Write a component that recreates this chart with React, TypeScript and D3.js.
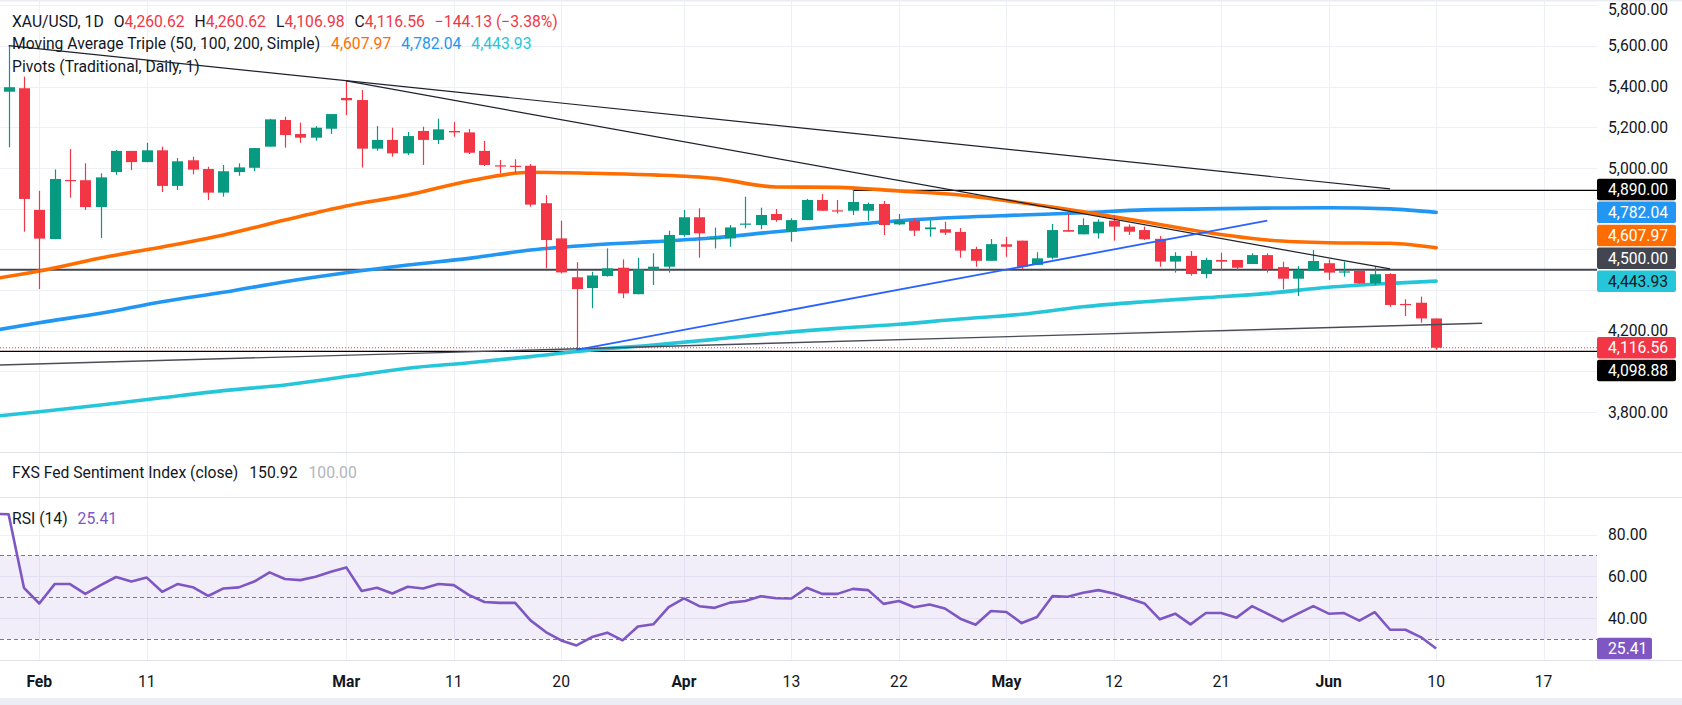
import React, { useEffect, useRef } from "react";
import * as d3 from "d3";

const WIDTH = 1682;
const HEIGHT = 705;
const PLOT_RIGHT = 1597;
const MAIN_BOTTOM = 452;
const RSI_TOP = 497.5;
const RSI_BOTTOM = 660;
const FONT = "Roboto, 'Noto Sans', sans-serif";
const FS = 15.7;

const YEAR = "2026-";

// trading days shown on the chart (Jan 28 sits just off the left edge)
const dates = [
  "01-28", "01-29", "01-30",
  "02-02", "02-03", "02-04", "02-05", "02-06", "02-09", "02-10", "02-11", "02-12", "02-13",
  "02-16", "02-17", "02-18", "02-19", "02-20", "02-23", "02-24", "02-25", "02-26", "02-27",
  "03-02", "03-03", "03-04", "03-05", "03-06", "03-09", "03-10", "03-11", "03-12", "03-13",
  "03-16", "03-17", "03-18", "03-19", "03-20", "03-23", "03-24", "03-25", "03-26", "03-27",
  "03-30", "03-31",
  "04-01", "04-02", "04-06", "04-07", "04-08", "04-09", "04-10", "04-13", "04-14", "04-15",
  "04-16", "04-17", "04-20", "04-21", "04-22", "04-23", "04-24", "04-27", "04-28", "04-29", "04-30",
  "05-01", "05-04", "05-05", "05-06", "05-07", "05-08", "05-11", "05-12", "05-13", "05-14",
  "05-15", "05-18", "05-19", "05-20", "05-21", "05-22", "05-25", "05-26", "05-27", "05-28", "05-29",
  "06-01", "06-02", "06-03", "06-04", "06-05", "06-08", "06-09", "06-10",
];

// daily candles from 01-29 to 06-10
const opens = [
  5375, 5392, 4794, 4651, 4941, 4940, 4808, 4980, 5084, 5029,
  5087, 4912, 5038, 4995, 4879, 4980, 5001, 5105, 5236, 5167,
  5149, 5193, 5344, 5334, 5095, 5138, 5072, 5182, 5138, 5182,
  5175, 5084, 5013, 5011, 5011, 4827, 4654, 4463, 4410, 4469,
  4510, 4380, 4499, 4515, 4671, 4758, 4653, 4654, 4722, 4720,
  4774, 4687, 4744, 4843, 4792, 4790, 4790, 4823, 4723, 4741,
  4699, 4699, 4686, 4602, 4544, 4625, 4643, 4524, 4559, 4695,
  4674, 4679, 4741, 4712, 4695, 4652, 4540, 4568, 4479, 4548,
  4548, 4528, 4572, 4513, 4456, 4495, 4532, 4486, 4494, 4433,
  4479, 4332, 4338, 4260.62,
];
const highs = [
  5601, 5449, 4888, 4993, 5093, 5023, 4974, 5088, 5084, 5124,
  5105, 5049, 5055, 5006, 5015, 5023, 5098, 5242, 5252, 5223,
  5206, 5265, 5428, 5383, 5206, 5198, 5177, 5203, 5242, 5226,
  5192, 5133, 5039, 5043, 5020, 4867, 4741, 4537, 4490, 4605,
  4551, 4559, 4581, 4692, 4794, 4802, 4707, 4720, 4859, 4805,
  4799, 4753, 4848, 4872, 4843, 4892, 4830, 4838, 4774, 4753,
  4744, 4736, 4705, 4613, 4651, 4662, 4643, 4586, 4725, 4774,
  4753, 4748, 4769, 4723, 4712, 4666, 4586, 4592, 4559, 4584,
  4548, 4581, 4581, 4540, 4518, 4597, 4551, 4540, 4499, 4515,
  4483, 4355, 4368, 4260.62,
];
const lows = [
  5102, 4687, 4405, 4650, 4854, 4794, 4656, 4967, 4990, 5028,
  4882, 4892, 4969, 4843, 4859, 4962, 4985, 5105, 5100, 5124,
  5134, 5167, 5260, 5002, 5085, 5056, 5064, 5015, 5118, 5154,
  5069, 5010, 4974, 4974, 4810, 4507, 4482, 4106, 4311, 4466,
  4360, 4379, 4425, 4486, 4662, 4559, 4605, 4613, 4704, 4699,
  4736, 4638, 4744, 4790, 4777, 4769, 4741, 4671, 4720, 4666,
  4662, 4671, 4559, 4515, 4544, 4564, 4503, 4524, 4551, 4687,
  4674, 4654, 4643, 4671, 4646, 4515, 4486, 4471, 4458, 4495,
  4495, 4528, 4486, 4404, 4371, 4495, 4450, 4466, 4430, 4425,
  4318, 4273, 4240, 4106.98,
];
const closes = [
  5397, 4848, 4653, 4946, 4938, 4808, 4954, 5084, 5029, 5087,
  4912, 5033, 4992, 4879, 4984, 5003, 5098, 5239, 5162, 5149,
  5198, 5265, 5333, 5095, 5138, 5072, 5157, 5138, 5190, 5175,
  5075, 5015, 5008, 5008, 4820, 4646, 4487, 4405, 4472, 4507,
  4384, 4502, 4515, 4671, 4758, 4679, 4656, 4708, 4727, 4769,
  4744, 4744, 4843, 4790, 4789, 4833, 4823, 4720, 4741, 4692,
  4708, 4682, 4594, 4544, 4626, 4613, 4515, 4556, 4695, 4687,
  4720, 4736, 4712, 4687, 4650, 4540, 4568, 4479, 4548, 4540,
  4510, 4572, 4504, 4456, 4499, 4543, 4486, 4492, 4433, 4478,
  4327, 4328, 4260.69, 4116.56,
];

// moving averages every few sessions
const maDates = [
  "01-28", "02-02", "02-06", "02-12", "02-18", "02-24", "03-02", "03-06", "03-12",
  "03-18", "03-24", "03-30", "04-06", "04-10", "04-16", "04-22", "04-28", "05-04",
  "05-08", "05-14", "05-20", "05-26", "06-01", "06-05", "06-10",
];
const ma50 = [
  4455, 4494, 4558, 4612, 4671, 4744, 4813, 4867, 4936, 4979, 4974, 4966, 4949,
  4907, 4905, 4887, 4867, 4829, 4785, 4736, 4684, 4646, 4633, 4630, 4607.97,
];
const ma100 = [
  4201, 4240, 4286, 4343, 4389, 4441, 4485, 4523, 4556, 4597, 4622, 4638, 4657,
  4687, 4715, 4741, 4758, 4769, 4780, 4794, 4799, 4803, 4805, 4799, 4782.04,
];
const ma200 = [
  3779, 3802, 3835, 3871, 3906, 3934, 3975, 4016, 4043, 4073, 4106, 4130, 4158,
  4188, 4212, 4232, 4258, 4281, 4318, 4343, 4363, 4384, 4414, 4433, 4443.93,
];

// RSI(14), one value per date
const rsi = [
  90.0, 89.8, 54.5, 47.0, 56.3, 56.3, 51.6, 55.8, 59.7, 57.5,
  59.4, 52.6, 56.3, 54.8, 50.6, 54.2, 54.7, 57.5, 61.9, 58.7,
  58.2, 59.8, 62.2, 64.3, 53.0, 54.5, 51.8, 55.0, 54.2, 56.3,
  55.8, 51.0, 47.7, 47.3, 47.3, 38.9, 33.3, 29.3, 26.9, 30.9,
  33.0, 29.3, 36.0, 37.0, 45.3, 49.4, 45.7, 44.9, 47.4, 48.2,
  50.5, 49.5, 49.4, 54.5, 51.6, 51.6, 54.0, 53.4, 46.8, 48.2,
  45.2, 46.5, 44.6, 39.7, 36.8, 43.4, 42.9, 37.6, 40.5, 50.5,
  50.2, 52.1, 53.4, 51.8, 49.4, 47.0, 39.4, 42.1, 37.0, 42.4,
  42.4, 40.2, 45.7, 42.1, 38.4, 42.1, 45.7, 42.1, 42.4, 38.8,
  42.8, 34.4, 34.4, 30.9, 25.41,
];

const fxsClose = 150.92;
const fxsBase = 100;

const tickDates = [
  "02-02", "02-11", "03-02", "03-11", "03-20", "04-01", "04-13",
  "04-22", "05-01", "05-12", "05-21", "06-01", "06-10", "06-17",
];
const tickLabels = ["Feb", "11", "Mar", "11", "20", "Apr", "13", "22", "May", "12", "21", "Jun", "10", "17"];
const monthLabels = ["Feb", "Mar", "Apr", "May", "Jun"];

const priceTicks = [3800, 4000, 4200, 4400, 4600, 4800, 5000, 5200, 5400, 5600, 5800];
const rsiTicks = [20, 40, 60, 80];
const rsiLevels = [70, 50, 30];

// drawn trend lines: [date, price] at each end
const trendStarts = [["01-29", 5601], ["03-02", 5428], ["01-28", 4031], ["03-23", 4106]];
const trendEnds = [["06-05", 4897], ["06-05", 4504], ["06-13", 4237], ["05-26", 4741]];

// horizontal levels and where they begin
const levels = [4890, 4500, 4098.88];
const levelStarts = ["04-17", "01-28", "01-28"];

const RED = "#F23645";
const GREEN = "#089981";
const TEXT = "#131722";
const ORANGE = "#FF6D00";
const BLUE = "#2196F3";
const CYAN = "#26C6DA";
const PURPLE = "#7E57C2";

function slot(md: string) {
  const k = dates.indexOf(md);
  if (k >= 0) return k;
  // past the last bar the axis keeps one slot per calendar day
  const last = new Date(YEAR + dates[dates.length - 1]);
  const d = new Date(YEAR + md);
  return dates.length - 1 + Math.round((+d - +last) / 864e5);
}

export default function App() {
  const ref = useRef<SVGSVGElement>(null);

  useEffect(() => {
    document.body.style.margin = "0";
    const svg = d3.select(ref.current);
    svg.selectAll("*").remove();

    const x = d3.scaleLinear().domain([0.44, 104.48]).range([0, PLOT_RIGHT]);
    const y = d3.scaleLinear().domain([3604.4, 5825.6]).range([MAIN_BOTTOM, 0]);
    const yr = d3.scaleLinear().domain([19.9, 97.8]).range([RSI_BOTTOM, RSI_TOP]);
    const fmt = d3.format(",.2f");

    const defs = svg.append("defs");
    defs.append("clipPath").attr("id", "clipMain")
      .append("rect").attr("width", PLOT_RIGHT).attr("height", MAIN_BOTTOM);
    defs.append("clipPath").attr("id", "clipRsi")
      .append("rect").attr("y", RSI_TOP).attr("width", PLOT_RIGHT).attr("height", RSI_BOTTOM - RSI_TOP);
    defs.append("clipPath").attr("id", "clipRsiAxis")
      .append("rect").attr("x", PLOT_RIGHT).attr("y", RSI_TOP).attr("width", 90).attr("height", RSI_BOTTOM - RSI_TOP + 2);

    svg.append("rect").attr("width", WIDTH).attr("height", HEIGHT).attr("fill", "#fff");

    // grid
    const grid = svg.append("g").attr("stroke", "#eef0f5").attr("stroke-width", 1);
    tickDates.forEach((d) => {
      const xx = Math.round(x(slot(d))) + 0.5;
      grid.append("line").attr("x1", xx).attr("x2", xx).attr("y1", 0).attr("y2", RSI_BOTTOM);
    });
    priceTicks.forEach((p) => {
      const yy = Math.round(y(p)) + 0.5;
      grid.append("line").attr("x1", 0).attr("x2", PLOT_RIGHT).attr("y1", yy).attr("y2", yy);
    });
    rsiTicks.forEach((v) => {
      const yy = Math.round(yr(v)) + 0.5;
      grid.append("line").attr("x1", 0).attr("x2", PLOT_RIGHT).attr("y1", yy).attr("y2", yy);
    });

    // pane frame
    svg.append("rect").attr("width", WIDTH).attr("height", 1.5).attr("fill", "#eaedf3");
    svg.append("rect").attr("y", 698).attr("width", WIDTH).attr("height", 7).attr("fill", "#eaedf3");
    [MAIN_BOTTOM + 0.5, RSI_TOP, RSI_BOTTOM + 0.5].forEach((yy) => {
      svg.append("line").attr("x1", 0).attr("x2", WIDTH).attr("y1", yy).attr("y2", yy)
        .attr("stroke", "#e0e3eb").attr("stroke-width", 1.2);
    });

    // ---- main pane ----
    const main = svg.append("g").attr("clip-path", "url(#clipMain)");

    const levelStyle = [
      { stroke: "#000", width: 1.2 },
      { stroke: "#434651", width: 2 },
      { stroke: "#000", width: 1.2 },
    ];
    levels.forEach((lv, i) => {
      main.append("line")
        .attr("x1", x(slot(levelStarts[i]))).attr("x2", PLOT_RIGHT)
        .attr("y1", y(lv)).attr("y2", y(lv))
        .attr("stroke", levelStyle[i].stroke).attr("stroke-width", levelStyle[i].width);
    });
    const lastClose = closes[closes.length - 1];
    main.append("line")
      .attr("x1", 0).attr("x2", PLOT_RIGHT).attr("y1", y(lastClose)).attr("y2", y(lastClose))
      .attr("stroke", RED).attr("stroke-width", 1).attr("stroke-dasharray", "1 2");

    const maLine = d3.line<number>()
      .x((_, i) => x(slot(maDates[i])))
      .y((v) => y(v))
      .curve(d3.curveMonotoneX);
    [[ma200, CYAN], [ma100, BLUE], [ma50, ORANGE]].forEach(([s, c]) => {
      main.append("path").attr("d", maLine(s as number[]))
        .attr("fill", "none").attr("stroke", c as string).attr("stroke-width", 3.6)
        .attr("stroke-linecap", "round");
    });

    const bodyW = 11;
    const candles = main.append("g");
    opens.forEach((o, i) => {
      const k = i + 1;
      const c = closes[i];
      const col = c >= o ? GREEN : RED;
      const cx = Math.round(x(k)) + 0.5;
      candles.append("line").attr("x1", cx).attr("x2", cx)
        .attr("y1", y(highs[i])).attr("y2", y(lows[i]))
        .attr("stroke", col).attr("stroke-width", 1.2);
      const top = y(Math.max(o, c));
      const h = Math.max(1.2, y(Math.min(o, c)) - top);
      candles.append("rect").attr("x", cx - bodyW / 2).attr("y", top)
        .attr("width", bodyW).attr("height", h).attr("fill", col);
    });

    const trendStyle = [
      { stroke: "#1e222d", width: 1.2 },
      { stroke: "#1e222d", width: 1.2 },
      { stroke: "#4a4d57", width: 1.4 },
      { stroke: "#2962FF", width: 1.8 },
    ];
    trendStarts.forEach((s, i) => {
      const e = trendEnds[i];
      main.append("line")
        .attr("x1", x(slot(s[0] as string))).attr("y1", y(s[1] as number))
        .attr("x2", x(slot(e[0] as string))).attr("y2", y(e[1] as number))
        .attr("stroke", trendStyle[i].stroke).attr("stroke-width", trendStyle[i].width);
    });

    // ---- price axis ----
    const axisText = (g: any, txt: string, yy: number, color = TEXT) =>
      g.append("text").attr("x", 1608).attr("y", yy + FS * 0.355)
        .attr("fill", color).attr("font-family", FONT).attr("font-size", FS).text(txt);

    const axis = svg.append("g");

    const tags = [
      { v: lastClose, bg: RED, fg: "#fff" },
      { v: ma200[ma200.length - 1], bg: CYAN, fg: TEXT },
      { v: levels[1], bg: "#434651", fg: "#fff" },
      { v: ma50[ma50.length - 1], bg: ORANGE, fg: "#fff" },
      { v: ma100[ma100.length - 1], bg: BLUE, fg: "#fff" },
      { v: levels[0], bg: "#000", fg: "#fff" },
      { v: levels[2], bg: "#000", fg: "#fff" },
    ];
    const TAG_H = 22.8;
    const placed: number[] = [];
    tags.forEach((t) => {
      const natural = y(t.v);
      let yy = natural;
      for (let n = 0; n < 10; n++) {
        const hit = placed.find((p) => Math.abs(p - yy) < TAG_H - 0.01);
        if (hit === undefined) break;
        yy = natural < hit ? hit - TAG_H : hit + TAG_H;
      }
      placed.push(yy);
    });

    // tick labels that would sit under a tag are left out, as the axis does
    priceTicks
      .filter((p) => placed.every((py) => Math.abs(py - y(p)) > 16.4))
      .forEach((p) => axisText(axis, fmt(p), Math.max(y(p), 9)));

    tags.forEach((t, i) => {
      const yy = placed[i];
      axis.append("rect").attr("x", PLOT_RIGHT).attr("y", yy - 10.75)
        .attr("width", 79).attr("height", 21.5).attr("rx", 2).attr("fill", t.bg);
      axisText(axis, fmt(t.v), yy, t.fg);
    });

    // ---- RSI pane ----
    const rp = svg.append("g").attr("clip-path", "url(#clipRsi)");
    rp.append("rect").attr("x", 0).attr("width", PLOT_RIGHT)
      .attr("y", yr(rsiLevels[0])).attr("height", yr(rsiLevels[2]) - yr(rsiLevels[0]))
      .attr("fill", PURPLE).attr("fill-opacity", 0.1);
    rsiLevels.forEach((v) => {
      rp.append("line").attr("x1", 0).attr("x2", PLOT_RIGHT)
        .attr("y1", Math.round(yr(v)) + 0.5).attr("y2", Math.round(yr(v)) + 0.5)
        .attr("stroke", "#787B86").attr("stroke-width", 1).attr("stroke-dasharray", "4 3");
    });
    const rsiLine = d3.line<number>().x((_, i) => x(i)).y((v) => yr(v));
    rp.append("path").attr("d", rsiLine(rsi)).attr("fill", "none")
      .attr("stroke", PURPLE).attr("stroke-width", 2.6).attr("stroke-linejoin", "round");

    const lastRsi = rsi[rsi.length - 1];
    const rAxis = svg.append("g").attr("clip-path", "url(#clipRsiAxis)");
    rsiTicks
      .filter((v) => Math.abs(yr(v) - yr(lastRsi)) > 16.4)
      .forEach((v) => axisText(rAxis, d3.format(".2f")(v), yr(v)));
    rAxis.append("rect").attr("x", PLOT_RIGHT).attr("y", yr(lastRsi) - 10.75)
      .attr("width", 55).attr("height", 21.5).attr("rx", 2).attr("fill", PURPLE);
    axisText(rAxis, d3.format(".2f")(lastRsi), yr(lastRsi), "#fff");

    // ---- time axis ----
    tickDates.forEach((d, i) => {
      const lab = tickLabels[i];
      svg.append("text").attr("x", x(slot(d))).attr("y", 687.3)
        .attr("text-anchor", "middle").attr("fill", TEXT)
        .attr("font-family", FONT).attr("font-size", FS)
        .attr("font-weight", monthLabels.includes(lab) ? 700 : 400)
        .text(lab);
    });

    // ---- legends ----
    const legend = (yy: number, parts: [string, string, number][]) => {
      const t = svg.append("text").attr("x", 12).attr("y", yy)
        .attr("font-family", FONT).attr("font-size", FS).attr("xml:space", "preserve");
      parts.forEach(([s, c, dx]) => t.append("tspan").attr("dx", dx).attr("fill", c).text(s));
    };
    const n = closes.length - 1;
    const chg = closes[n] - closes[n - 1];
    const pct = (chg / closes[n - 1]) * 100;
    legend(26.5, [
      ["XAU/USD, 1D", TEXT, 0],
      ["O", TEXT, 10], [fmt(opens[n]), RED, 0],
      ["H", TEXT, 10], [fmt(highs[n]), RED, 0],
      ["L", TEXT, 10], [fmt(lows[n]), RED, 0],
      ["C", TEXT, 10], [fmt(closes[n]), RED, 0],
      [`${fmt(chg)} (${d3.format(".2f")(pct).replace("-", "−")}%)`, RED, 10],
    ]);
    legend(48.8, [
      ["Moving Average Triple (50, 100, 200, Simple)", TEXT, 0],
      [fmt(ma50[ma50.length - 1]), ORANGE, 11],
      [fmt(ma100[ma100.length - 1]), BLUE, 10],
      [fmt(ma200[ma200.length - 1]), CYAN, 10],
    ]);
    legend(72.3, [["Pivots (Traditional, Daily, 1)", TEXT, 0]]);
    legend(478.3, [
      ["FXS Fed Sentiment Index (close)", TEXT, 0],
      [d3.format(".2f")(fxsClose), TEXT, 11],
      [d3.format(".2f")(fxsBase), "#B2B5BE", 11],
    ]);
    legend(523.9, [
      ["RSI (14)", TEXT, 0],
      [d3.format(".2f")(lastRsi), PURPLE, 10],
    ]);
  }, []);

  return <svg ref={ref} width={WIDTH} height={HEIGHT} style={{ display: "block" }} />;
}
